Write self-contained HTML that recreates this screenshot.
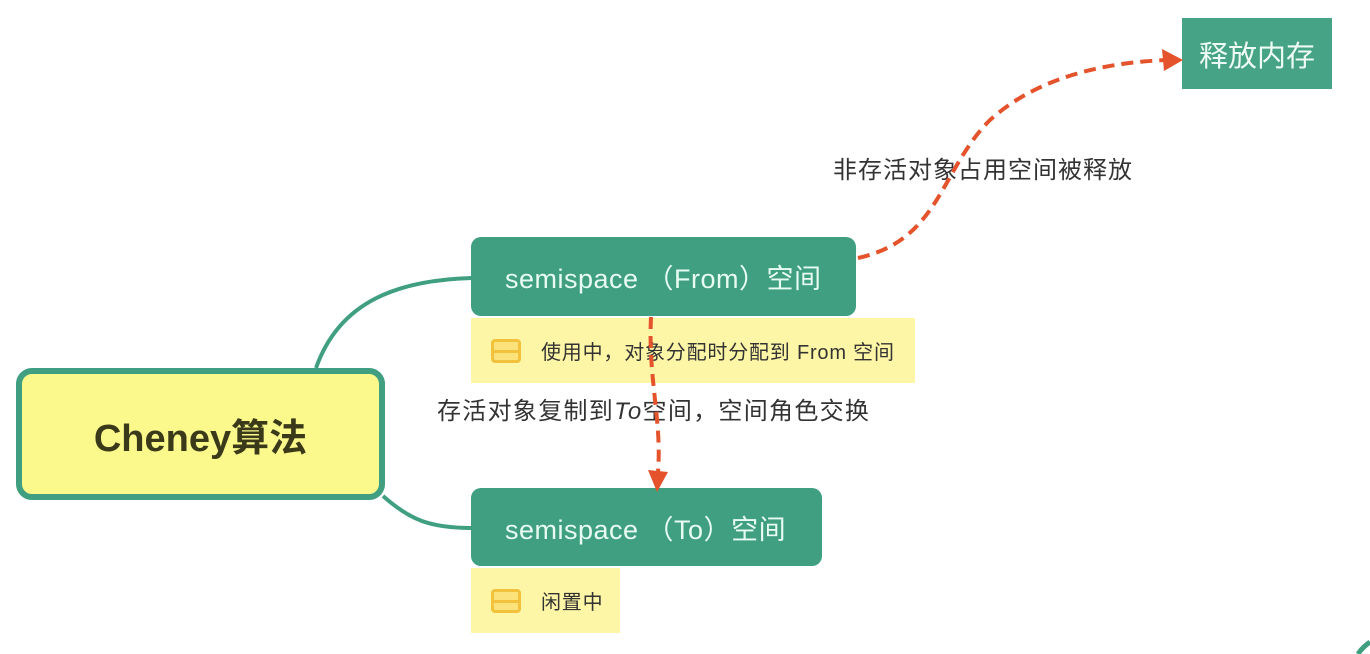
<!DOCTYPE html>
<html><head><meta charset="utf-8"><style>
body{margin:0;width:1370px;height:654px;background:#fff;position:relative;overflow:hidden;font-family:"Liberation Sans","Noto Sans CJK SC",sans-serif}
.a{position:absolute;box-sizing:border-box;white-space:nowrap}
.g{background:#3f9f80;color:#e8fbf3;border-radius:10px;font-size:27px;letter-spacing:0.5px;display:flex;align-items:center;padding-left:34px}
.n{background:#fdf6a6;font-size:20px;letter-spacing:0.8px;color:#333;display:flex;align-items:center}
.ic{width:30px;height:24px;border:3px solid #f2c23c;border-radius:4px;margin:0 20px 0 20px;box-sizing:border-box;position:relative;background:#fbe27a;flex:none}
.ic:after{content:"";position:absolute;left:0;right:0;top:8px;border-top:3px solid #f2c23c}
</style></head><body>
<svg class="a" style="left:0;top:0" width="1370" height="654">
<path d="M316 368 C340 300 400 280 472 278" stroke="#3f9f80" stroke-width="4" fill="none"/>
<path d="M383 496 C410 520 430 528 472 528" stroke="#3f9f80" stroke-width="4" fill="none"/>
<path d="M1358 654 C1362 648 1366 645 1370 642" stroke="#3f9f80" stroke-width="5" fill="none"/>
</svg>
<div class="a" style="left:1182px;top:18px;width:150px;height:71px;background:#47a386;color:#eefaf4;font-size:29px;display:flex;align-items:center;justify-content:center">释放内存</div>
<div class="a" style="left:833px;top:150px;font-size:24px;letter-spacing:1px;color:#333">非存活对象占用空间被释放</div>
<div class="a g" style="left:471px;top:237px;width:385px;height:79px">semispace （From）空间</div>
<div class="a n" style="left:471px;top:318px;width:444px;height:65px"><div class="ic"></div>使用中，对象分配时分配到 From 空间</div>
<div class="a" style="left:437px;top:391px;font-size:24px;letter-spacing:1.3px;color:#333">存活对象复制到<i>To</i>空间，空间角色交换</div>
<div class="a g" style="left:471px;top:488px;width:351px;height:78px">semispace （To）空间</div>
<div class="a n" style="left:471px;top:568px;width:149px;height:65px"><div class="ic"></div>闲置中</div>
<div class="a" style="left:16px;top:368px;width:369px;height:132px;background:#fbf98b;border:6px solid #3f9f80;border-radius:16px;display:flex;align-items:center;justify-content:center;font-size:38px;font-weight:bold;color:#3a3a1a">Cheney算法</div>
<svg class="a" style="left:0;top:0" width="1370" height="654">
<path d="M858 258 C940 240 940 170 990 120 C1040 75 1110 62 1168 60" stroke="#e4532b" stroke-width="4" stroke-dasharray="12 7" fill="none"/>
<polygon points="1183,60 1162,49 1164,71" fill="#e4532b"/>
<path d="M651 317 C648 380 662 420 658 472" stroke="#e4532b" stroke-width="4" stroke-dasharray="12 7" fill="none"/>
<polygon points="657,492 648,470 668,472" fill="#e4532b"/>
</svg>
</body></html>
